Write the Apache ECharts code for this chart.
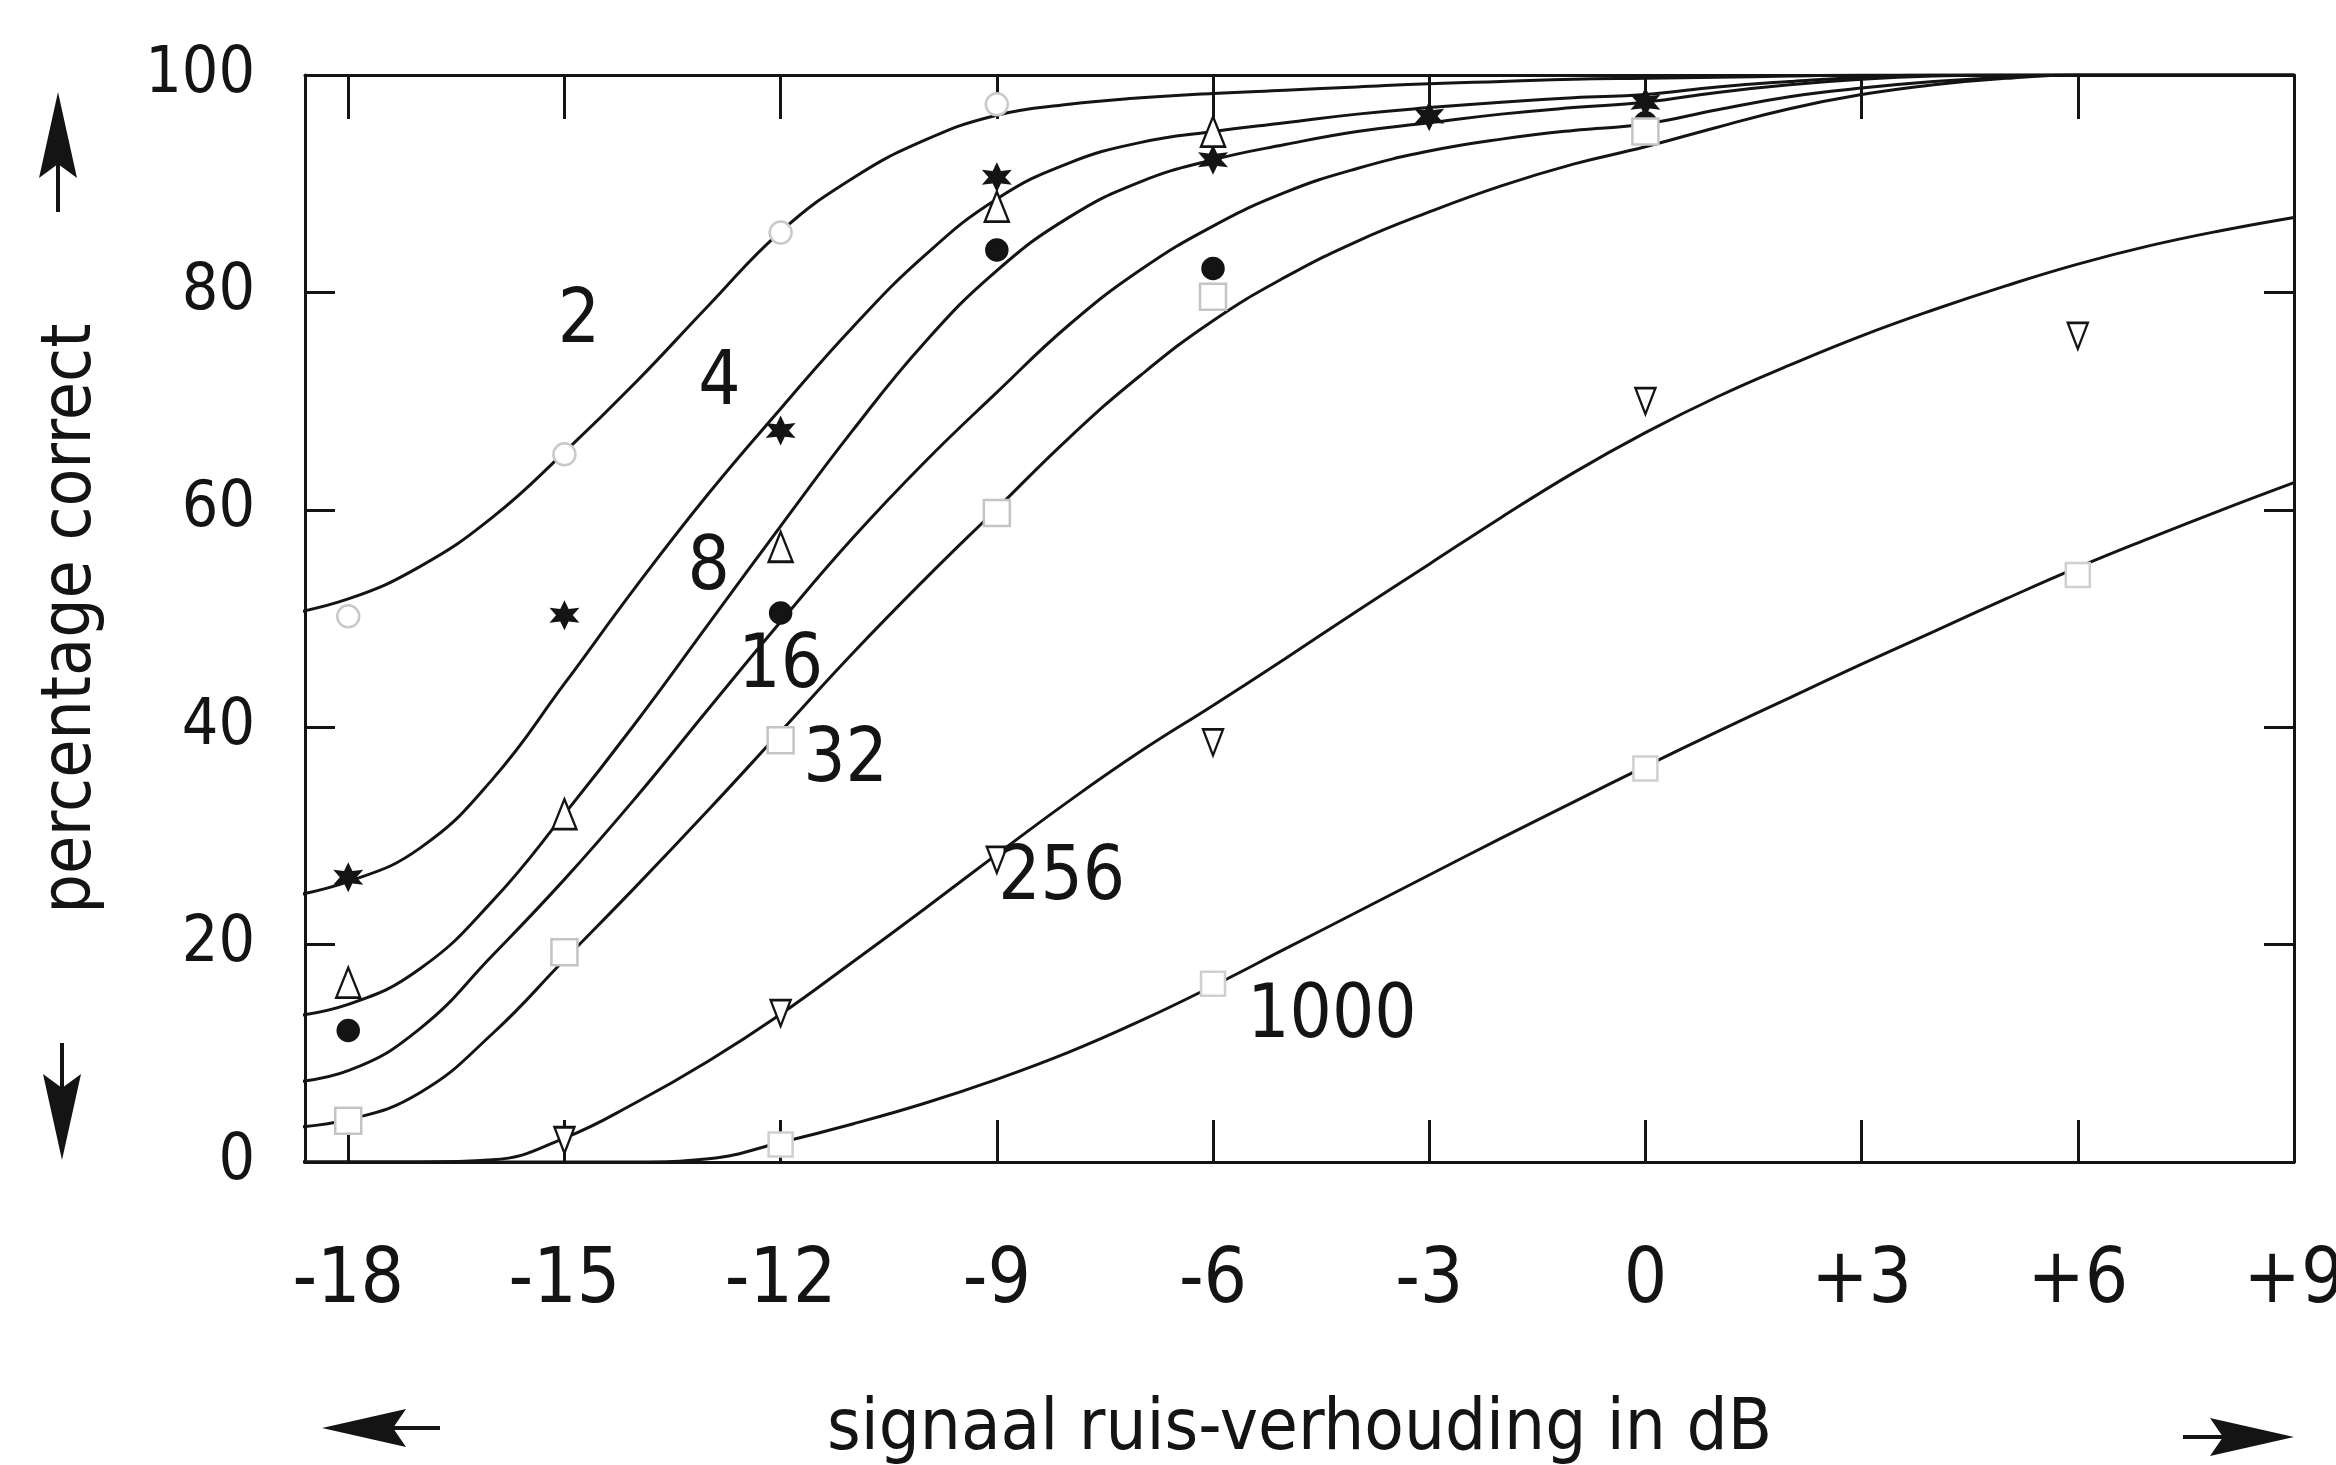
<!DOCTYPE html>
<html>
<head>
<meta charset="utf-8">
<title>percentage correct</title>
<script src="https://cdn.jsdelivr.net/npm/echarts@6/dist/echarts.min.js"></script>
<style>
  html, body { margin: 0; padding: 0; background: #fff; }
  #main { width: 2336px; height: 1465px; }
</style>
</head>
<body>
<div id="main"></div>
<script>
// tick values
var xTicks = [-18, -15, -12, -9, -6, -3, 0, 3, 6, 9];

// fitted curves, one value per dB from -19 to +9
var snr = [-19, -18, -17, -16, -15, -14, -13, -12, -11, -10, -9, -8, -7, -6, -5, -4, -3, -2, -1, 0, 1, 2, 3, 4, 5, 6, 7, 8, 9];
var curve2 = [50.2, 51.8, 54.8, 59.3, 65.3, 71.8, 78.8, 85.6, 90.5, 94, 96.3, 97.3, 97.9, 98.3, 98.6, 98.9, 99.2, 99.4, 99.6, 99.7, 99.8, 99.9, 100, 100, 100, 100, 100, 100, 100];
var curve4 = [24.2, 25.8, 28.9, 35.2, 44, 53, 61.5, 69.3, 76.8, 83.4, 88.6, 91.9, 93.8, 94.8, 95.6, 96.4, 97, 97.5, 97.9, 98.2, 98.9, 99.4, 99.8, 100, 100, 100, 100, 100, 100];
var curve8 = [13.2, 14.5, 17.8, 24, 32, 40.5, 49.5, 58.5, 67.3, 75.4, 82, 86.9, 90.2, 92.2, 93.6, 94.8, 95.6, 96.4, 97, 97.5, 98.4, 99.1, 99.6, 99.9, 100, 100, 100, 100, 100];
var curve16 = [7.2, 8.4, 12.3, 19, 26, 33.6, 41.7, 49.7, 57.4, 64.4, 70.8, 77, 82.1, 86.1, 89.2, 91.4, 93, 94.1, 94.9, 95.5, 96.8, 98, 98.8, 99.4, 99.8, 100, 100, 100, 100];
var curve32 = [3.1, 3.9, 6.4, 11.8, 18.6, 25.4, 32.4, 39.6, 46.8, 53.6, 60.1, 66.6, 72.4, 77.4, 81.4, 84.7, 87.4, 89.8, 91.8, 93.4, 95.2, 96.9, 98.2, 99.1, 99.7, 100, 100, 100, 100];
var curve256 = [0, 0, 0, 0.2, 2.2, 5.5, 9.3, 13.6, 18.4, 23.3, 28.3, 33.2, 37.8, 42, 46.3, 50.7, 55, 59.3, 63.4, 67.1, 70.4, 73.3, 76, 78.4, 80.6, 82.6, 84.3, 85.7, 86.9];
var curve1000 = [0, 0, 0, 0, 0, 0, 0.3, 1.8, 3.5, 5.4, 7.6, 10.1, 13, 16.2, 19.6, 23, 26.4, 29.8, 33.1, 36.4, 39.6, 42.7, 45.8, 48.8, 51.8, 54.7, 57.4, 60, 62.5];

// measured points
var pts2 = [[-18, 50.2], [-15, 65.1], [-12, 85.5], [-9, 97.3]];
var pts4 = [[-18, 26.2], [-15, 50.3], [-12, 67.3], [-9, 90.6], [-6, 92.2], [-3, 96.2], [0, 97.5]];
var pts8 = [[-18, 16.5], [-15, 32], [-12, 56.6], [-9, 87.9], [-6, 94.8]];
var pts16 = [[-18, 12.1], [-12, 50.5], [-9, 83.9], [-6, 82.2], [0, 95.6]];
var pts32 = [[-18, 3.8], [-15, 19.3], [-12, 38.8], [-9, 59.7], [-6, 79.6], [0, 94.8]];
var pts256 = [[-15, 2], [-12, 13.7], [-9, 27.8], [-6, 38.6], [0, 70], [6, 76]];
var pts1000 = [[-12, 1.6], [-6, 16.4], [0, 36.2], [6, 54]];

// curve labels
var curveLabels = [[-14.8, 77.2, '2'], [-12.85, 71.5, '4'], [-13.0, 54.5, '8'], [-12.0, 45.5, '16'],
  [-11.1, 36.8, '32'], [-8.1, 26, '256'], [-4.35, 13.3, '1000']];

var FONT = "'Liberation Sans Narrow', 'DejaVu Sans Condensed', 'Liberation Sans', sans-serif";
var INK = '#141414';
var STAR = 'path://M50,0 L62,29 L93,25 L74,50 L93,75 L62,71 L50,100 L38,71 L7,75 L26,50 L7,25 L38,29 Z';

function pairs(xs, ys) {
  return xs.map(function (x, i) { return [x, ys[i]]; });
}

function curve(ys) {
  return {
    type: 'line', data: pairs(snr, ys), smooth: 0.45, showSymbol: false, clip: true,
    lineStyle: { color: INK, width: 3 }, z: 2, silent: true
  };
}

function marks(data, symbol, size, fill, stroke, extra) {
  var s = {
    type: 'scatter', data: data, symbol: symbol, symbolSize: size, z: 4, silent: true,
    itemStyle: { color: fill, borderColor: stroke, borderWidth: 2.5, opacity: 1 }
  };
  return Object.assign(s, extra || {});
}

var myChart = echarts.init(document.getElementById('main'));

var axisLineStyle = { onZero: false, lineStyle: { color: INK, width: 3 } };

var option = {
  backgroundColor: '#fff',
  animation: false,
  grid: { left: 305, right: 42, top: 75, bottom: 303, outerBoundsMode: 'none', containLabel: false },
  xAxis: [
    {
      type: 'value', min: -18.6, max: 9, position: 'bottom',
      name: 'signaal ruis-verhouding in dB',
      nameLocation: 'middle', nameGap: 232,
      nameTextStyle: { fontFamily: FONT, fontSize: 72, color: INK },
      axisLine: axisLineStyle,
      axisTick: { inside: true, length: 42, customValues: xTicks.slice(0, 9), lineStyle: { color: INK, width: 3 } },
      axisLabel: {
        customValues: xTicks, margin: 82, fontFamily: FONT, fontSize: 76, color: INK,
        formatter: function (v) { return v > 0 ? '+' + v : String(v); }
      },
      splitLine: { show: false }
    },
    {
      type: 'value', min: -18.6, max: 9, position: 'top',
      axisLine: axisLineStyle,
      axisTick: { inside: true, length: 44, customValues: xTicks.slice(0, 9), lineStyle: { color: INK, width: 3 } },
      axisLabel: { show: false },
      splitLine: { show: false }
    }
  ],
  yAxis: [
    {
      type: 'value', min: 0, max: 100, interval: 20, position: 'left',
      name: 'percentage correct', nameLocation: 'middle', nameGap: 198, nameRotate: 90,
      nameTextStyle: { fontFamily: FONT, fontSize: 69, color: INK },
      axisLine: axisLineStyle,
      axisTick: { inside: true, length: 30, lineStyle: { color: INK, width: 3 } },
      axisLabel: { margin: 50, fontFamily: FONT, fontSize: 64, color: INK },
      splitLine: { show: false }
    },
    {
      type: 'value', min: 0, max: 100, interval: 20, position: 'right',
      axisLine: axisLineStyle,
      axisTick: { inside: true, length: 30, lineStyle: { color: INK, width: 3 } },
      axisLabel: { show: false },
      splitLine: { show: false }
    }
  ],
  series: [
    curve(curve2),
    curve(curve4),
    curve(curve8),
    curve(curve16),
    curve(curve32),
    curve(curve256),
    curve(curve1000),
    marks(pts2, 'circle', 22, '#fff', '#c9c9c9'),
    marks(pts4, STAR, 30, INK, INK, { itemStyle: { color: INK, borderWidth: 0, opacity: 1 } }),
    marks(pts8, 'triangle', [24, 30], '#fff', INK),
    marks(pts16, 'circle', 21, INK, INK),
    marks(pts32, 'rect', 26, '#fff', '#c4c4c4'),
    marks(pts256, 'triangle', [20, 26], '#fff', INK, { symbolRotate: 180 }),
    marks(pts1000, 'rect', 24, '#fff', '#cfcfcf'),
    {
      type: 'scatter', data: curveLabels, symbolSize: 1, z: 5, silent: true,
      itemStyle: { color: 'rgba(0,0,0,0)', opacity: 1 },
      label: {
        show: true, position: 'inside', fontFamily: FONT, fontSize: 74, color: INK, opacity: 1,
        formatter: function (p) { return p.data[2]; }
      }
    }
  ],
  graphic: [
    // arrows beside the axis names
    { type: 'polyline', shape: { points: [[58, 212], [58, 160]] }, style: { stroke: INK, lineWidth: 4 } },
    { type: 'polygon', shape: { points: [[58, 92], [39, 178], [58, 164], [77, 178]] }, style: { fill: INK } },
    { type: 'polyline', shape: { points: [[62, 1043], [62, 1095]] }, style: { stroke: INK, lineWidth: 4 } },
    { type: 'polygon', shape: { points: [[62, 1160], [43, 1074], [62, 1088], [81, 1074]] }, style: { fill: INK } },
    { type: 'polyline', shape: { points: [[440, 1428], [385, 1428]] }, style: { stroke: INK, lineWidth: 4 } },
    { type: 'polygon', shape: { points: [[322, 1428], [406, 1409], [393, 1428], [406, 1447]] }, style: { fill: INK } },
    { type: 'polyline', shape: { points: [[2183, 1437], [2240, 1437]] }, style: { stroke: INK, lineWidth: 4 } },
    { type: 'polygon', shape: { points: [[2294, 1437], [2210, 1418], [2223, 1437], [2210, 1456]] }, style: { fill: INK } }
  ]
};

myChart.setOption(option);
</script>
</body>
</html>
